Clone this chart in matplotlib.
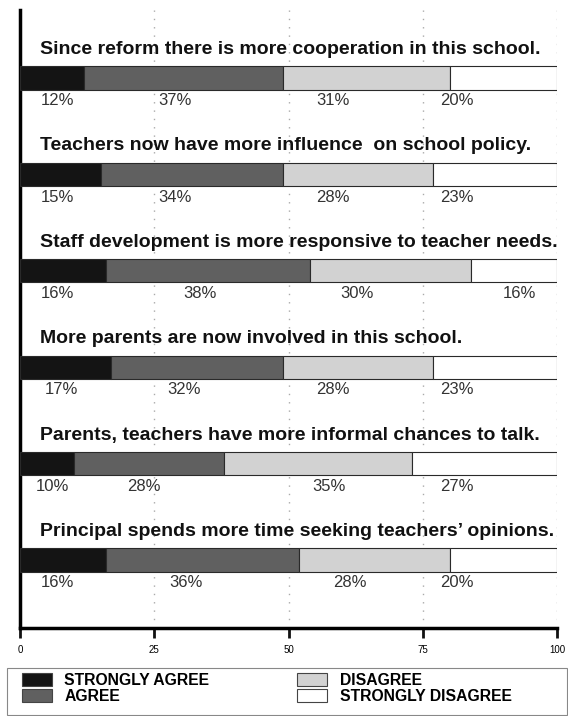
import numpy as np
import matplotlib
matplotlib.use("Agg")
import matplotlib.pyplot as plt
from matplotlib.patches import Patch, Rectangle

# survey statements, top to bottom
statements = [
    "Since reform there is more cooperation in this school.",
    "Teachers now have more influence  on school policy.",
    "Staff development is more responsive to teacher needs.",
    "More parents are now involved in this school.",
    "Parents, teachers have more informal chances to talk.",
    "Principal spends more time seeking teachers\u2019 opinions.",
]

strongly_agree = [12, 15, 16, 17, 10, 16]
agree = [37, 34, 38, 32, 28, 36]
disagree = [31, 28, 30, 28, 35, 28]
strongly_disagree = [20, 23, 16, 23, 27, 20]

categories = ["STRONGLY AGREE", "AGREE", "DISAGREE", "STRONGLY DISAGREE"]
colors = ["#141414", "#606060", "#d2d2d2", "#ffffff"]

# where the printed percentages sit along each bar (the original doesn't centre them)
label_x = [
    [6.9, 28.8, 58.3, 81.4],
    [6.9, 28.8, 58.3, 81.4],
    [6.9, 33.5, 62.8, 93.0],
    [7.8, 30.5, 58.3, 81.4],
    [6.0, 23.0, 57.5, 81.4],
    [6.9, 31.0, 61.5, 81.4],
]

plt.rcParams['font.family'] = ['Liberation Sans', 'DejaVu Sans']

fig = plt.figure(figsize=(5.68, 7.16), dpi=100)
ax = fig.add_axes([20 / 568, 88 / 716, 537 / 568, 618 / 716])

series = [strongly_agree, agree, disagree, strongly_disagree]
y = np.arange(len(statements))
left = np.zeros(len(statements))
for vals, col in zip(series, colors):
    ax.barh(y, vals, left=left, height=0.24, color=col, edgecolor="#2a2a2a",
            linewidth=0.8, zorder=3)
    left += np.array(vals)

for i, text in enumerate(statements):
    ax.text(3.7, i - 0.25, text, fontsize=14.0, fontweight="bold",
            color="#111111", va="baseline", ha="left")
    for j, vals in enumerate(series):
        ax.text(label_x[i][j], i + 0.235, f"{vals[i]}%", fontsize=12,
                color="#333333", ha="center", va="center")

ax.set_xlim(0, 100)
ax.set_ylim(5.705, -0.705)
ax.set_xticks([0, 25, 50, 75, 100])
ax.set_yticks([])
ax.tick_params(axis="x", direction="out", length=7, width=2, labelsize=7,
               pad=5, color="#111111")
for side in ["top", "right"]:
    ax.spines[side].set_visible(False)
ax.spines["left"].set_linewidth(2.5)
ax.spines["bottom"].set_linewidth(2.5)
ax.grid(axis="x", linestyle=(0, (1, 5)), color="#aaaaaa", linewidth=1.0, zorder=0)
ax.set_axisbelow(True)

# legend: entries without frame, box drawn separately so it spans the width
handles = [Patch(facecolor=c, edgecolor="#444444", linewidth=0.8) for c in colors]
leg = fig.legend(handles, categories, ncol=2,
                 bbox_to_anchor=(22 / 568, (716 - 673) / 716),
                 loc="upper left", frameon=False, borderpad=0, borderaxespad=0,
                 prop={"size": 11.3, "weight": "bold"},
                 handlelength=1.9, handleheight=0.85, labelspacing=0.05,
                 handletextpad=0.8, columnspacing=5.6)
fig.patches.append(Rectangle((7 / 568, 1 / 716), 560 / 568, 47 / 716,
                             transform=fig.transFigure, fill=False,
                             edgecolor="#888888", linewidth=0.8))

fig.savefig("out.png", dpi=100)
